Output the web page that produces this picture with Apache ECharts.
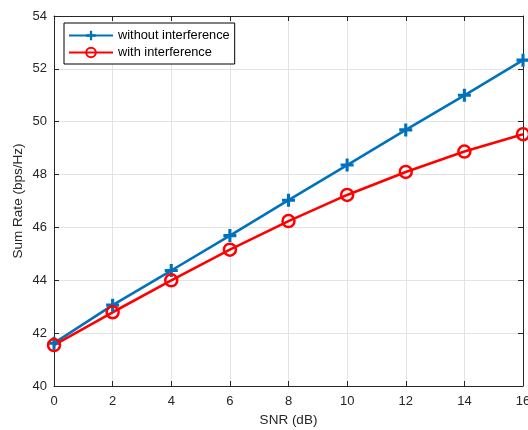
<!DOCTYPE html>
<html>
<head>
<meta charset="utf-8">
<script src="https://cdn.jsdelivr.net/npm/echarts@6/dist/echarts.min.js"></script>
<style>html,body{margin:0;padding:0;background:#fff}#c{width:528px;height:430px}</style>
</head>
<body>
<div id="c"></div>
<script>
const snr = [0, 2, 4, 6, 8, 10, 12, 14, 16];
const withoutInterference = [41.62, 43.06, 44.37, 45.69, 47.03, 48.36, 49.69, 51.0, 52.33];
const withInterference = [41.55, 42.79, 44.0, 45.16, 46.24, 47.23, 48.10, 48.87, 49.53];
const seriesNames = ['without interference', 'with interference'];
const xTitle = 'SNR (dB)';
const yTitle = 'Sum Rate (bps/Hz)';

const FONT = '"Liberation Sans", Arial, Helvetica, sans-serif';
const AX = '#262626';
const plusPath = 'path://M3.8,0 H6.2 V3.8 H10 V6.2 H6.2 V10 H3.8 V6.2 H0 V3.8 H3.8 Z';

const chart = echarts.init(document.getElementById('c'), null, {renderer: 'canvas'});
const axisCommon = {
  axisLine: {show: true, onZero: false, lineStyle: {color: AX, width: 1}},
  axisTick: {show: true, inside: true, length: 5, lineStyle: {color: AX, width: 1}},
};
chart.setOption({
  animation: false,
  backgroundColor: '#fff',
  grid: {left: 54, right: 5, top: 16, bottom: 44, containLabel: false, outerBoundsMode: 'none'},
  legend: {
    orient: 'vertical', left: 64, top: 23,
    padding: [6, 5, 5, 4], itemGap: 4,
    itemWidth: 44, itemHeight: 12,
    backgroundColor: '#fff', borderColor: '#000', borderWidth: 1,
    textStyle: {fontFamily: FONT, fontSize: 12.8, color: '#000'},
    data: seriesNames
  },
  xAxis: [
    Object.assign({
      type: 'value', min: 0, max: 16, interval: 2,
      name: xTitle, nameLocation: 'middle', nameGap: 27, nameMoveOverlap: false,
      nameTextStyle: {fontFamily: FONT, fontSize: 13.5, color: AX},
      axisLabel: {fontFamily: FONT, fontSize: 13, color: AX, margin: 9},
      splitLine: {show: true, lineStyle: {color: '#e3e3e3', width: 1}}
    }, axisCommon),
    Object.assign({
      type: 'value', min: 0, max: 16, interval: 2, position: 'top',
      axisLabel: {show: false}, splitLine: {show: false}
    }, axisCommon)
  ],
  yAxis: [
    Object.assign({
      type: 'value', min: 40, max: 54, interval: 2,
      name: yTitle, nameLocation: 'middle', nameGap: 29, nameMoveOverlap: false,
      nameTextStyle: {fontFamily: FONT, fontSize: 13.5, color: AX},
      axisLabel: {fontFamily: FONT, fontSize: 13, color: AX, margin: 7},
      splitLine: {show: true, lineStyle: {color: '#e3e3e3', width: 1}}
    }, axisCommon),
    Object.assign({
      type: 'value', min: 40, max: 54, interval: 2, position: 'right',
      axisLabel: {show: false}, splitLine: {show: false}
    }, axisCommon)
  ],
  series: [
    {
      name: seriesNames[0], type: 'line', clip: false,
      data: snr.map((x, i) => [x, withoutInterference[i]]),
      symbol: plusPath, symbolSize: 13,
      lineStyle: {color: '#0072BD', width: 2.6},
      itemStyle: {color: '#0072BD', borderWidth: 0}
    },
    {
      name: seriesNames[1], type: 'line', clip: false,
      data: snr.map((x, i) => [x, withInterference[i]]),
      symbol: 'circle', symbolSize: 12,
      lineStyle: {color: '#FF0000', width: 2.6},
      itemStyle: {color: 'rgba(255,255,255,0)', borderColor: '#FF0000', borderWidth: 2.5}
    }
  ]
});
</script>
</body>
</html>
